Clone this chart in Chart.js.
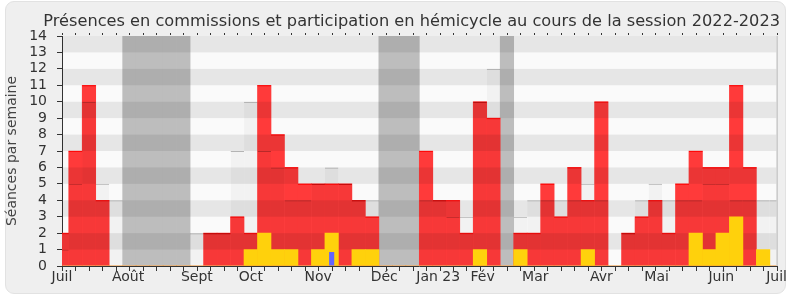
<!DOCTYPE html>
<html lang="fr">
<head>
<meta charset="UTF-8">
<title>Présences en commissions et participation en hémicycle</title>
<script src="https://cdn.jsdelivr.net/npm/chart.js"></script>
<style>
  body { margin: 0; background: #fff; }
  .cadre { position: absolute; left: 5px; top: 1px; width: 779px; height: 291px; background: #efefef; border: 1px solid #e2e2e2; border-radius: 9px; }
  .zone { position: absolute; left: 0; top: 0; width: 790px; height: 300px; }
</style>
</head>
<body>
<div class="cadre"></div>
<div class="zone"><canvas id="presences" width="790" height="300"></canvas></div>
<script>
// une valeur par semaine, de juillet 2022 à juillet 2023
const commissions = [2, 7, 11, 4, 0, 0, 0, 0, 0, 0, 0, 2, 2, 3, 2, 11, 8, 6, 5, 5, 5, 5, 4, 3, 0, 0, 0, 7, 4, 4, 2, 10, 9, 0, 2, 2, 5, 3, 6, 4, 10, 0, 2, 3, 4, 2, 5, 7, 6, 6, 11, 6, 0, 0];
const hemicycle = [0, 0, 0, 0, 0, 0, 0, 0, 0, 0, 0, 0, 0, 0, 1, 2, 1, 1, 0, 1, 2, 0, 1, 1, 0, 0, 0, 0, 0, 0, 0, 1, 0, 0, 1, 0, 0, 0, 0, 1, 0, 0, 0, 0, 0, 0, 0, 2, 1, 2, 3, 0, 1, 0];
const questions = [0, 0, 0, 0, 0, 0, 0, 0, 0, 0, 0, 0, 0, 0, 0, 0, 0, 0, 0, 0, 0.85, 0, 0, 0, 0, 0, 0, 0, 0, 0, 0, 0, 0, 0, 0, 0, 0, 0, 0, 0, 0, 0, 0, 0, 0, 0, 0, 0, 0, 0, 0, 0, 0, 0];
const mediane = [1, 5, 10, 5, 4, 0, 0, 0, 0, 0, 2, 2, 2, 7, 10, 7, 6, 4, 4, 5, 6, 5, 4, 4, 0, 0, 0, 4, 4, 3, 3, 10, 12, 0, 3, 4, 4, 4, 4, 5, 4, 0, 2, 4, 5, 4, 4, 4, 5, 5, 4, 4, 4, 4];
const vacances = [5, 6, 7, 8, 9, 24, 25, 26, 33];
const moisPositions = [0, 4.9, 10, 14, 19, 23.9, 27.9, 31.2, 35.1, 40, 44.1, 48.9, 53];
const moisLabels = ['Juil', 'Août', 'Sept', 'Oct', 'Nov', 'Déc', 'Jan 23', 'Fév', 'Mar', 'Avr', 'Mai', 'Juin', 'Juil'];
const yMax = 14;

const points = arr => arr.map((v, i) => ({ x: i, y: v }));

// fond, liseré des barres rouges, rayures et graduations hebdomadaires
const fond = {
    id: 'fond',
    beforeDraw(chart) {
        const { ctx, chartArea: a } = chart;
        ctx.save();
        ctx.fillStyle = '#fafafa';
        ctx.fillRect(a.left, a.top, a.right - a.left, a.bottom - a.top);
        ctx.restore();
    },
    afterDatasetDraw(chart, args) {
        if (args.index !== 3) return;
        const { ctx, chartArea: a, scales: { y } } = chart;
        ctx.save();
        ctx.beginPath();
        ctx.rect(a.left, a.top, a.right - a.left, a.bottom - a.top);
        ctx.clip();
        ctx.fillStyle = 'rgb(255,8,8)';
        args.meta.data.forEach((bar, i) => {
            if (commissions[i] > 0) ctx.fillRect(bar.x - bar.width / 2, bar.y, bar.width, 1);
        });
        ctx.fillStyle = 'rgba(0,0,0,0.08)';
        for (let v = 1; v < yMax; v += 2) {
            const y1 = y.getPixelForValue(v + 1), y0 = y.getPixelForValue(v);
            ctx.fillRect(a.left, y1, a.right - a.left, y0 - y1);
        }
        ctx.restore();
    },
    afterDraw(chart) {
        const { ctx, chartArea: a, scales: { x } } = chart;
        ctx.save();
        ctx.strokeStyle = '#333';
        ctx.lineWidth = 1;
        ctx.beginPath();
        commissions.forEach((_, i) => {
            const px = Math.round(x.getPixelForValue(i)) + 0.5;
            ctx.moveTo(px, a.bottom);
            ctx.lineTo(px, a.bottom + 5);
            ctx.moveTo(px, a.top - 3);
            ctx.lineTo(px, a.top - 1);
        });
        ctx.stroke();
        ctx.strokeStyle = '#b5b5b5';
        ctx.beginPath();
        ctx.moveTo(a.right + 0.5, a.top);
        ctx.lineTo(a.right + 0.5, a.bottom);
        ctx.stroke();
        ctx.restore();
    }
};

const base = { grouped: false, categoryPercentage: 1, barPercentage: 1, clip: 0 };

new Chart(document.getElementById('presences'), {
    type: 'bar',
    data: {
        datasets: [
            { ...base, label: 'Questions', data: points(questions), backgroundColor: '#6464ff', barPercentage: 0.38 },
            { ...base, label: 'Hémicycle', data: points(hemicycle), backgroundColor: 'rgb(255,209,12)' },
            { ...base, label: 'Médiane', data: points(mediane), backgroundColor: 'rgba(0,0,0,0.03)',
              borderColor: 'rgba(0,0,0,0.28)', borderWidth: { top: 1 }, inflateAmount: 0 },
            { ...base, label: 'Commissions', data: points(commissions), backgroundColor: 'rgb(255,58,58)' },
            { ...base, label: 'Vacances', data: points(commissions.map((_, i) => vacances.includes(i) ? yMax : 0)),
              backgroundColor: 'rgb(189,189,189)' }
        ]
    },
    options: {
        responsive: false,
        animation: false,
        layout: { padding: { left: 0, right: 10, top: 0, bottom: 6 } },
        plugins: {
            legend: { display: false },
            tooltip: { enabled: false },
            title: {
                display: true,
                text: 'Présences en commissions et participation en hémicycle au cours de la session 2022-2023',
                align: 'end',
                color: '#333',
                font: { family: 'DejaVu Sans', size: 16.2, weight: 'normal', lineHeight: 1.2 },
                padding: { top: 12, bottom: 4.56 }
            }
        },
        scales: {
            x: {
                type: 'linear',
                min: 0,
                max: 53,
                offset: false,
                afterBuildTicks: s => { s.ticks = moisPositions.map(v => ({ value: v })); },
                afterFit: s => { s.height = 28; },
                grid: { display: false, drawTicks: false, offset: false },
                border: { display: true, color: '#333', width: 1 },
                ticks: {
                    autoSkip: false,
                    maxRotation: 0,
                    padding: 3,
                    color: '#333',
                    font: { family: 'DejaVu Sans', size: 14 },
                    callback: (v, i) => moisLabels[i]
                }
            },
            y: {
                min: 0,
                max: yMax,
                afterFit: s => { s.width = 62; },
                grid: { drawOnChartArea: false, tickLength: 5, color: '#333' },
                border: { display: true, color: '#333', width: 1 },
                ticks: {
                    stepSize: 1,
                    autoSkip: false,
                    padding: 10,
                    color: '#333',
                    font: { family: 'DejaVu Sans', size: 14 }
                },
                title: {
                    display: true,
                    text: 'Séances par semaine',
                    color: '#444',
                    font: { family: 'DejaVu Sans', size: 14 },
                    padding: { top: 4, bottom: 0 }
                }
            }
        }
    },
    plugins: [fond]
});
</script>
</body>
</html>
